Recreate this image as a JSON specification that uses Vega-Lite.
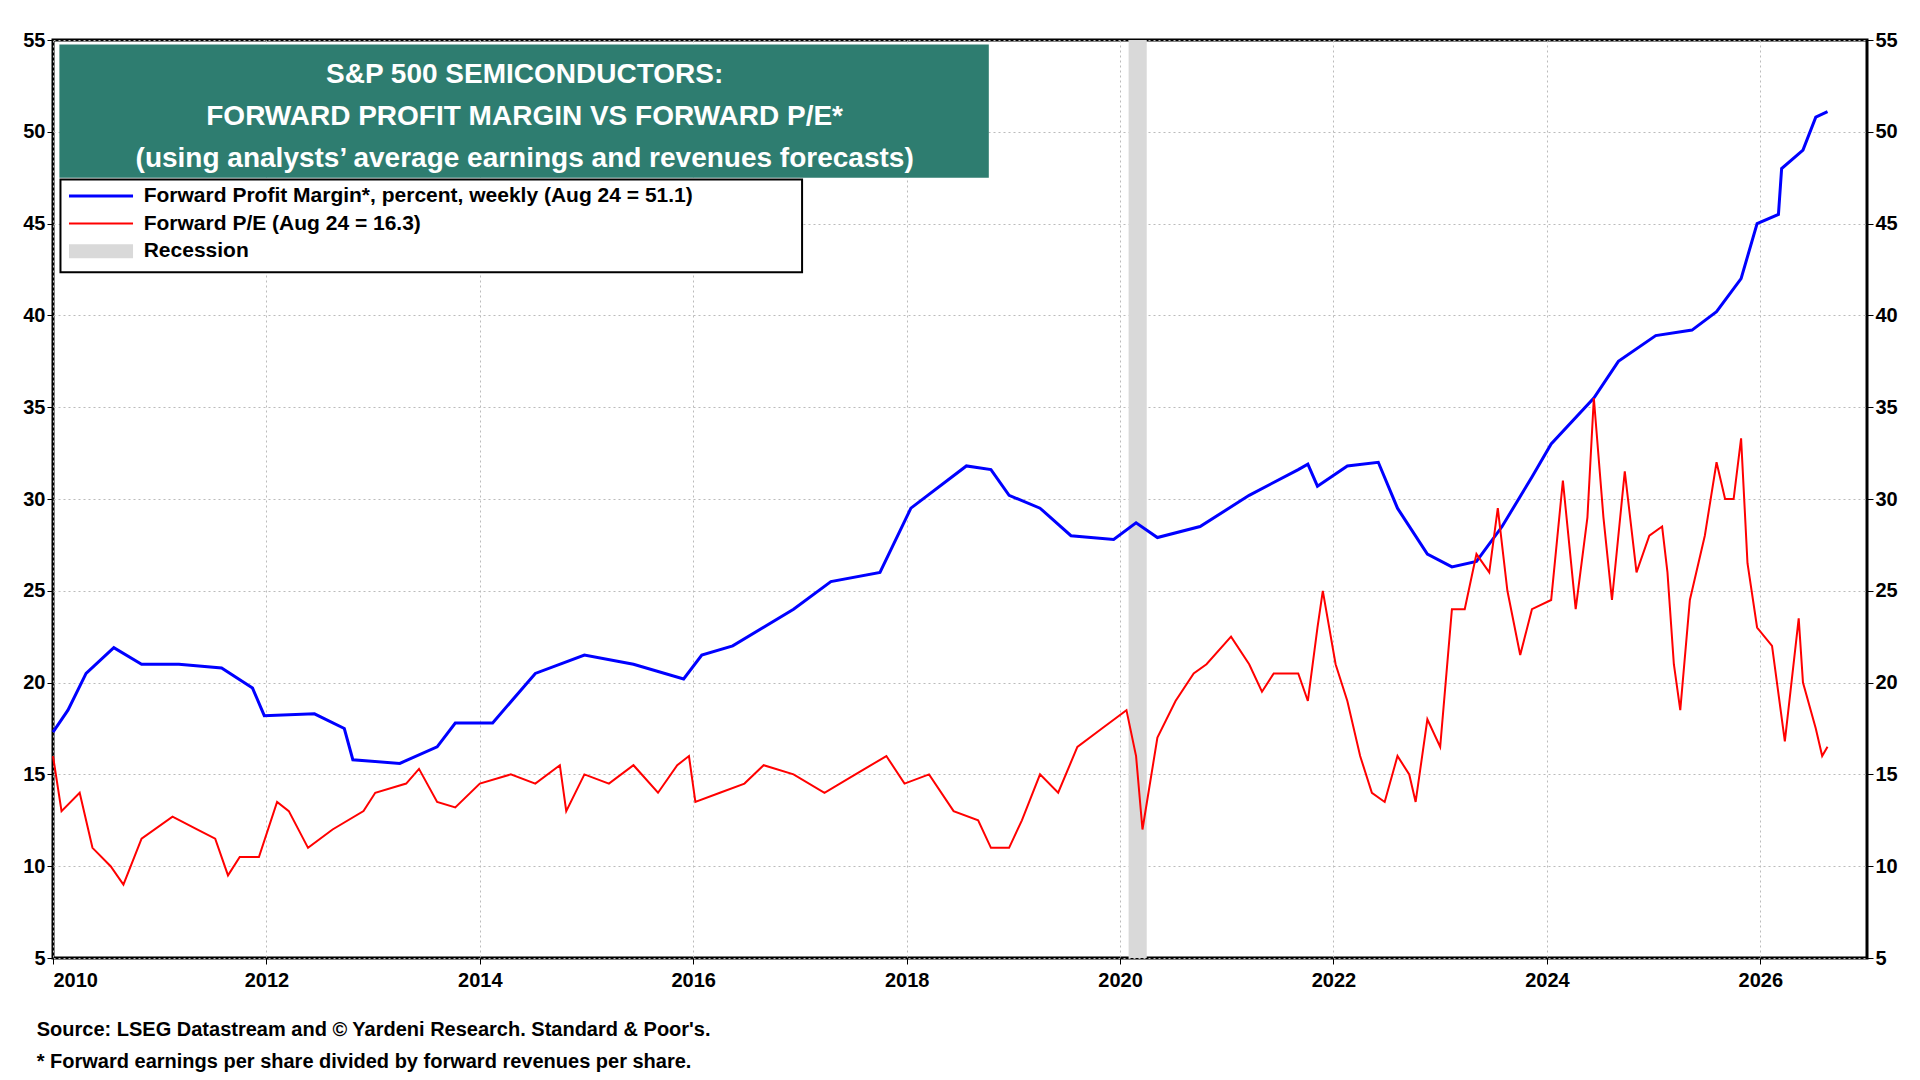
{
  "$schema": "https://vega.github.io/schema/vega-lite/v6.json",
  "width": 1920,
  "height": 1080,
  "autosize": {"type": "fit", "contains": "padding"},
  "padding": {"left": 22, "right": 22, "top": 30, "bottom": 8},
  "background": "white",
  "title": {
    "text": "Source: LSEG Datastream and © Yardeni Research. Standard & Poor's.",
    "subtitle": "* Forward earnings per share divided by forward revenues per share.",
    "orient": "bottom",
    "anchor": "start",
    "offset": 30,
    "dx": 14,
    "font": "Liberation Sans",
    "fontSize": 20,
    "fontWeight": "bold",
    "color": "black",
    "subtitleFont": "Liberation Sans",
    "subtitleFontSize": 20,
    "subtitleFontWeight": "bold",
    "subtitleColor": "black",
    "subtitlePadding": 12
  },
  "datasets": {
    "margin": [
      {"x": 2010.00, "y": 17.3}, {"x": 2010.14, "y": 18.5}, {"x": 2010.31, "y": 20.5}, {"x": 2010.57, "y": 21.9},
      {"x": 2010.83, "y": 21.0}, {"x": 2011.18, "y": 21.0}, {"x": 2011.58, "y": 20.8}, {"x": 2011.87, "y": 19.7},
      {"x": 2011.98, "y": 18.2}, {"x": 2012.45, "y": 18.3}, {"x": 2012.73, "y": 17.5}, {"x": 2012.81, "y": 15.8},
      {"x": 2013.25, "y": 15.6}, {"x": 2013.60, "y": 16.5}, {"x": 2013.77, "y": 17.8}, {"x": 2014.12, "y": 17.8},
      {"x": 2014.52, "y": 20.5}, {"x": 2014.98, "y": 21.5}, {"x": 2015.44, "y": 21.0}, {"x": 2015.91, "y": 20.2},
      {"x": 2016.08, "y": 21.5}, {"x": 2016.37, "y": 22.0}, {"x": 2016.94, "y": 24.0}, {"x": 2017.29, "y": 25.5},
      {"x": 2017.75, "y": 26.0}, {"x": 2018.04, "y": 29.5}, {"x": 2018.56, "y": 31.8}, {"x": 2018.79, "y": 31.6},
      {"x": 2018.96, "y": 30.2}, {"x": 2019.25, "y": 29.5}, {"x": 2019.54, "y": 28.0}, {"x": 2019.94, "y": 27.8},
      {"x": 2020.15, "y": 28.7}, {"x": 2020.35, "y": 27.9}, {"x": 2020.75, "y": 28.5}, {"x": 2021.21, "y": 30.2},
      {"x": 2021.67, "y": 31.6}, {"x": 2021.76, "y": 31.9}, {"x": 2021.85, "y": 30.7}, {"x": 2022.13, "y": 31.8},
      {"x": 2022.42, "y": 32.0}, {"x": 2022.60, "y": 29.5}, {"x": 2022.88, "y": 27.0}, {"x": 2023.11, "y": 26.3},
      {"x": 2023.34, "y": 26.6}, {"x": 2023.58, "y": 28.5}, {"x": 2023.86, "y": 31.2}, {"x": 2024.04, "y": 33.0},
      {"x": 2024.44, "y": 35.5}, {"x": 2024.67, "y": 37.5}, {"x": 2025.02, "y": 38.9}, {"x": 2025.36, "y": 39.2},
      {"x": 2025.59, "y": 40.2}, {"x": 2025.82, "y": 42.0}, {"x": 2025.97, "y": 45.0}, {"x": 2026.17, "y": 45.5},
      {"x": 2026.20, "y": 48.0}, {"x": 2026.40, "y": 49.0}, {"x": 2026.52, "y": 50.8}, {"x": 2026.63, "y": 51.1}
    ],
    "pe": [
      {"x": 2010.00, "y": 16}, {"x": 2010.08, "y": 13}, {"x": 2010.25, "y": 14}, {"x": 2010.37, "y": 11},
      {"x": 2010.54, "y": 10}, {"x": 2010.66, "y": 9}, {"x": 2010.83, "y": 11.5}, {"x": 2011.12, "y": 12.7},
      {"x": 2011.35, "y": 12}, {"x": 2011.52, "y": 11.5}, {"x": 2011.64, "y": 9.5}, {"x": 2011.75, "y": 10.5},
      {"x": 2011.93, "y": 10.5}, {"x": 2012.10, "y": 13.5}, {"x": 2012.21, "y": 13}, {"x": 2012.39, "y": 11},
      {"x": 2012.62, "y": 12}, {"x": 2012.91, "y": 13}, {"x": 2013.02, "y": 14}, {"x": 2013.31, "y": 14.5},
      {"x": 2013.43, "y": 15.3}, {"x": 2013.60, "y": 13.5}, {"x": 2013.77, "y": 13.2}, {"x": 2014.00, "y": 14.5},
      {"x": 2014.29, "y": 15}, {"x": 2014.52, "y": 14.5}, {"x": 2014.75, "y": 15.5}, {"x": 2014.81, "y": 13},
      {"x": 2014.98, "y": 15}, {"x": 2015.21, "y": 14.5}, {"x": 2015.44, "y": 15.5}, {"x": 2015.67, "y": 14},
      {"x": 2015.85, "y": 15.5}, {"x": 2015.96, "y": 16}, {"x": 2016.02, "y": 13.5}, {"x": 2016.25, "y": 14},
      {"x": 2016.48, "y": 14.5}, {"x": 2016.66, "y": 15.5}, {"x": 2016.94, "y": 15}, {"x": 2017.23, "y": 14},
      {"x": 2017.52, "y": 15}, {"x": 2017.81, "y": 16}, {"x": 2017.98, "y": 14.5}, {"x": 2018.21, "y": 15},
      {"x": 2018.44, "y": 13}, {"x": 2018.67, "y": 12.5}, {"x": 2018.79, "y": 11}, {"x": 2018.96, "y": 11},
      {"x": 2019.08, "y": 12.5}, {"x": 2019.25, "y": 15}, {"x": 2019.42, "y": 14}, {"x": 2019.60, "y": 16.5},
      {"x": 2019.83, "y": 17.5}, {"x": 2020.06, "y": 18.5}, {"x": 2020.15, "y": 16}, {"x": 2020.21, "y": 12},
      {"x": 2020.35, "y": 17}, {"x": 2020.52, "y": 19}, {"x": 2020.69, "y": 20.5}, {"x": 2020.81, "y": 21},
      {"x": 2021.04, "y": 22.5}, {"x": 2021.21, "y": 21}, {"x": 2021.33, "y": 19.5}, {"x": 2021.44, "y": 20.5},
      {"x": 2021.67, "y": 20.5}, {"x": 2021.76, "y": 19}, {"x": 2021.85, "y": 23}, {"x": 2021.90, "y": 25},
      {"x": 2022.02, "y": 21}, {"x": 2022.13, "y": 19}, {"x": 2022.25, "y": 16}, {"x": 2022.36, "y": 14},
      {"x": 2022.48, "y": 13.5}, {"x": 2022.60, "y": 16}, {"x": 2022.71, "y": 15}, {"x": 2022.77, "y": 13.5},
      {"x": 2022.88, "y": 18}, {"x": 2023.00, "y": 16.5}, {"x": 2023.11, "y": 24}, {"x": 2023.23, "y": 24},
      {"x": 2023.34, "y": 27}, {"x": 2023.46, "y": 26}, {"x": 2023.54, "y": 29.5}, {"x": 2023.63, "y": 25},
      {"x": 2023.75, "y": 21.5}, {"x": 2023.86, "y": 24}, {"x": 2024.04, "y": 24.5}, {"x": 2024.15, "y": 31},
      {"x": 2024.27, "y": 24}, {"x": 2024.38, "y": 29}, {"x": 2024.44, "y": 35.5}, {"x": 2024.53, "y": 29},
      {"x": 2024.61, "y": 24.5}, {"x": 2024.73, "y": 31.5}, {"x": 2024.84, "y": 26}, {"x": 2024.96, "y": 28},
      {"x": 2025.08, "y": 28.5}, {"x": 2025.13, "y": 26}, {"x": 2025.19, "y": 21}, {"x": 2025.25, "y": 18.5},
      {"x": 2025.34, "y": 24.5}, {"x": 2025.48, "y": 28}, {"x": 2025.59, "y": 32}, {"x": 2025.67, "y": 30},
      {"x": 2025.75, "y": 30}, {"x": 2025.82, "y": 33.3}, {"x": 2025.88, "y": 26.5}, {"x": 2025.97, "y": 23},
      {"x": 2026.11, "y": 22}, {"x": 2026.23, "y": 16.8}, {"x": 2026.36, "y": 23.5}, {"x": 2026.40, "y": 20},
      {"x": 2026.52, "y": 17.5}, {"x": 2026.58, "y": 16}, {"x": 2026.63, "y": 16.5}
    ],
    "titleLines": [
      {"x": 2014.42, "y": 53.1, "t": "S&P 500 SEMICONDUCTORS:"},
      {"x": 2014.42, "y": 50.8, "t": "FORWARD PROFIT MARGIN VS FORWARD P/E*"},
      {"x": 2014.42, "y": 48.5, "t": "(using analysts’ average earnings and revenues forecasts)"}
    ],
    "legendLines": [
      {"x": 2010.85, "y": 46.5, "t": "Forward Profit Margin*, percent, weekly (Aug 24 = 51.1)"},
      {"x": 2010.85, "y": 45.0, "t": "Forward P/E (Aug 24 = 16.3)"},
      {"x": 2010.85, "y": 43.5, "t": "Recession"}
    ]
  },
  "layer": [
    {
      "data": {"values": [{"x": 2020.08, "x2": 2020.25}]},
      "mark": {"type": "rect", "color": "#d9d9d9"},
      "encoding": {
        "x": {"field": "x", "type": "quantitative", "scale": {"domain": [2010, 2027], "nice": false, "zero": false},
          "axis": {"values": [2010, 2012, 2014, 2016, 2018, 2020, 2022, 2024, 2026], "format": "d", "title": null,
            "grid": true, "gridDash": [2, 3], "gridColor": "#bbbbbb", "labelFontSize": 20, "labelFont": "Liberation Sans",
            "labelFontWeight": "bold", "labelColor": "black", "tickColor": "black", "domain": false, "labelPadding": 6}},
        "x2": {"field": "x2"},
        "y": {"datum": 5, "type": "quantitative", "scale": {"domain": [5, 55], "nice": false, "zero": false},
          "axis": {"values": [5, 10, 15, 20, 25, 30, 35, 40, 45, 50, 55], "title": null, "grid": true, "gridDash": [2, 3],
            "gridColor": "#bbbbbb", "labelFontSize": 20, "labelFont": "Liberation Sans", "labelFontWeight": "bold",
            "labelColor": "black", "tickColor": "black", "domain": false}},
        "y2": {"datum": 55}
      }
    },
    {
      "data": {"name": "margin"},
      "mark": {"type": "line", "color": "#0000ff", "strokeWidth": 3},
      "encoding": {
        "x": {"field": "x", "type": "quantitative"},
        "y": {"field": "y", "type": "quantitative",
          "axis": {"orient": "right", "values": [5, 10, 15, 20, 25, 30, 35, 40, 45, 50, 55], "title": null, "grid": false,
            "labelFontSize": 20, "labelFont": "Liberation Sans", "labelFontWeight": "bold", "labelColor": "black",
            "tickColor": "black", "domain": false}}
      }
    },
    {
      "data": {"name": "pe"},
      "mark": {"type": "line", "color": "#ff0000", "strokeWidth": 2},
      "encoding": {
        "x": {"field": "x", "type": "quantitative"},
        "y": {"field": "y", "type": "quantitative", "axis": null}
      }
    },
    {
      "data": {"values": [{"x": 2010.06, "x2": 2018.77, "y": 47.5, "y2": 54.75}]},
      "mark": {"type": "rect", "color": "#2e7d70"},
      "encoding": {
        "x": {"field": "x", "type": "quantitative"}, "x2": {"field": "x2"},
        "y": {"field": "y", "type": "quantitative", "axis": null}, "y2": {"field": "y2"}
      }
    },
    {
      "data": {"name": "titleLines"},
      "mark": {"type": "text", "color": "white", "font": "Liberation Sans", "fontWeight": "bold", "fontSize": 28, "align": "center", "baseline": "middle"},
      "encoding": {
        "x": {"field": "x", "type": "quantitative"},
        "y": {"field": "y", "type": "quantitative", "axis": null},
        "text": {"field": "t"}
      }
    },
    {
      "data": {"values": [{"x": 2010.07, "x2": 2017.02, "y": 42.35, "y2": 47.4}]},
      "mark": {"type": "rect", "fill": "white", "stroke": "black", "strokeWidth": 2},
      "encoding": {
        "x": {"field": "x", "type": "quantitative"}, "x2": {"field": "x2"},
        "y": {"field": "y", "type": "quantitative", "axis": null}, "y2": {"field": "y2"}
      }
    },
    {
      "data": {"values": [
        {"x": 2010.15, "x2": 2010.75, "y": 46.5, "c": "#0000ff", "w": 3},
        {"x": 2010.15, "x2": 2010.75, "y": 45.0, "c": "#ff0000", "w": 2},
        {"x": 2010.15, "x2": 2010.75, "y": 43.5, "c": "#d9d9d9", "w": 14}
      ]},
      "mark": {"type": "rule"},
      "encoding": {
        "x": {"field": "x", "type": "quantitative"}, "x2": {"field": "x2"},
        "y": {"field": "y", "type": "quantitative", "axis": null},
        "color": {"field": "c", "type": "nominal", "scale": null},
        "strokeWidth": {"field": "w", "type": "quantitative", "scale": null}
      }
    },
    {
      "data": {"name": "legendLines"},
      "mark": {"type": "text", "color": "black", "font": "Liberation Sans", "fontWeight": "bold", "fontSize": 21, "align": "left", "baseline": "middle"},
      "encoding": {
        "x": {"field": "x", "type": "quantitative"},
        "y": {"field": "y", "type": "quantitative", "axis": null},
        "text": {"field": "t"}
      }
    }
  ],
  "resolve": {"axis": {"y": "independent"}},
  "config": {
    "view": {"stroke": "black", "strokeWidth": 3},
    "axis": {"ticks": true, "tickSize": 6}
  }
}
